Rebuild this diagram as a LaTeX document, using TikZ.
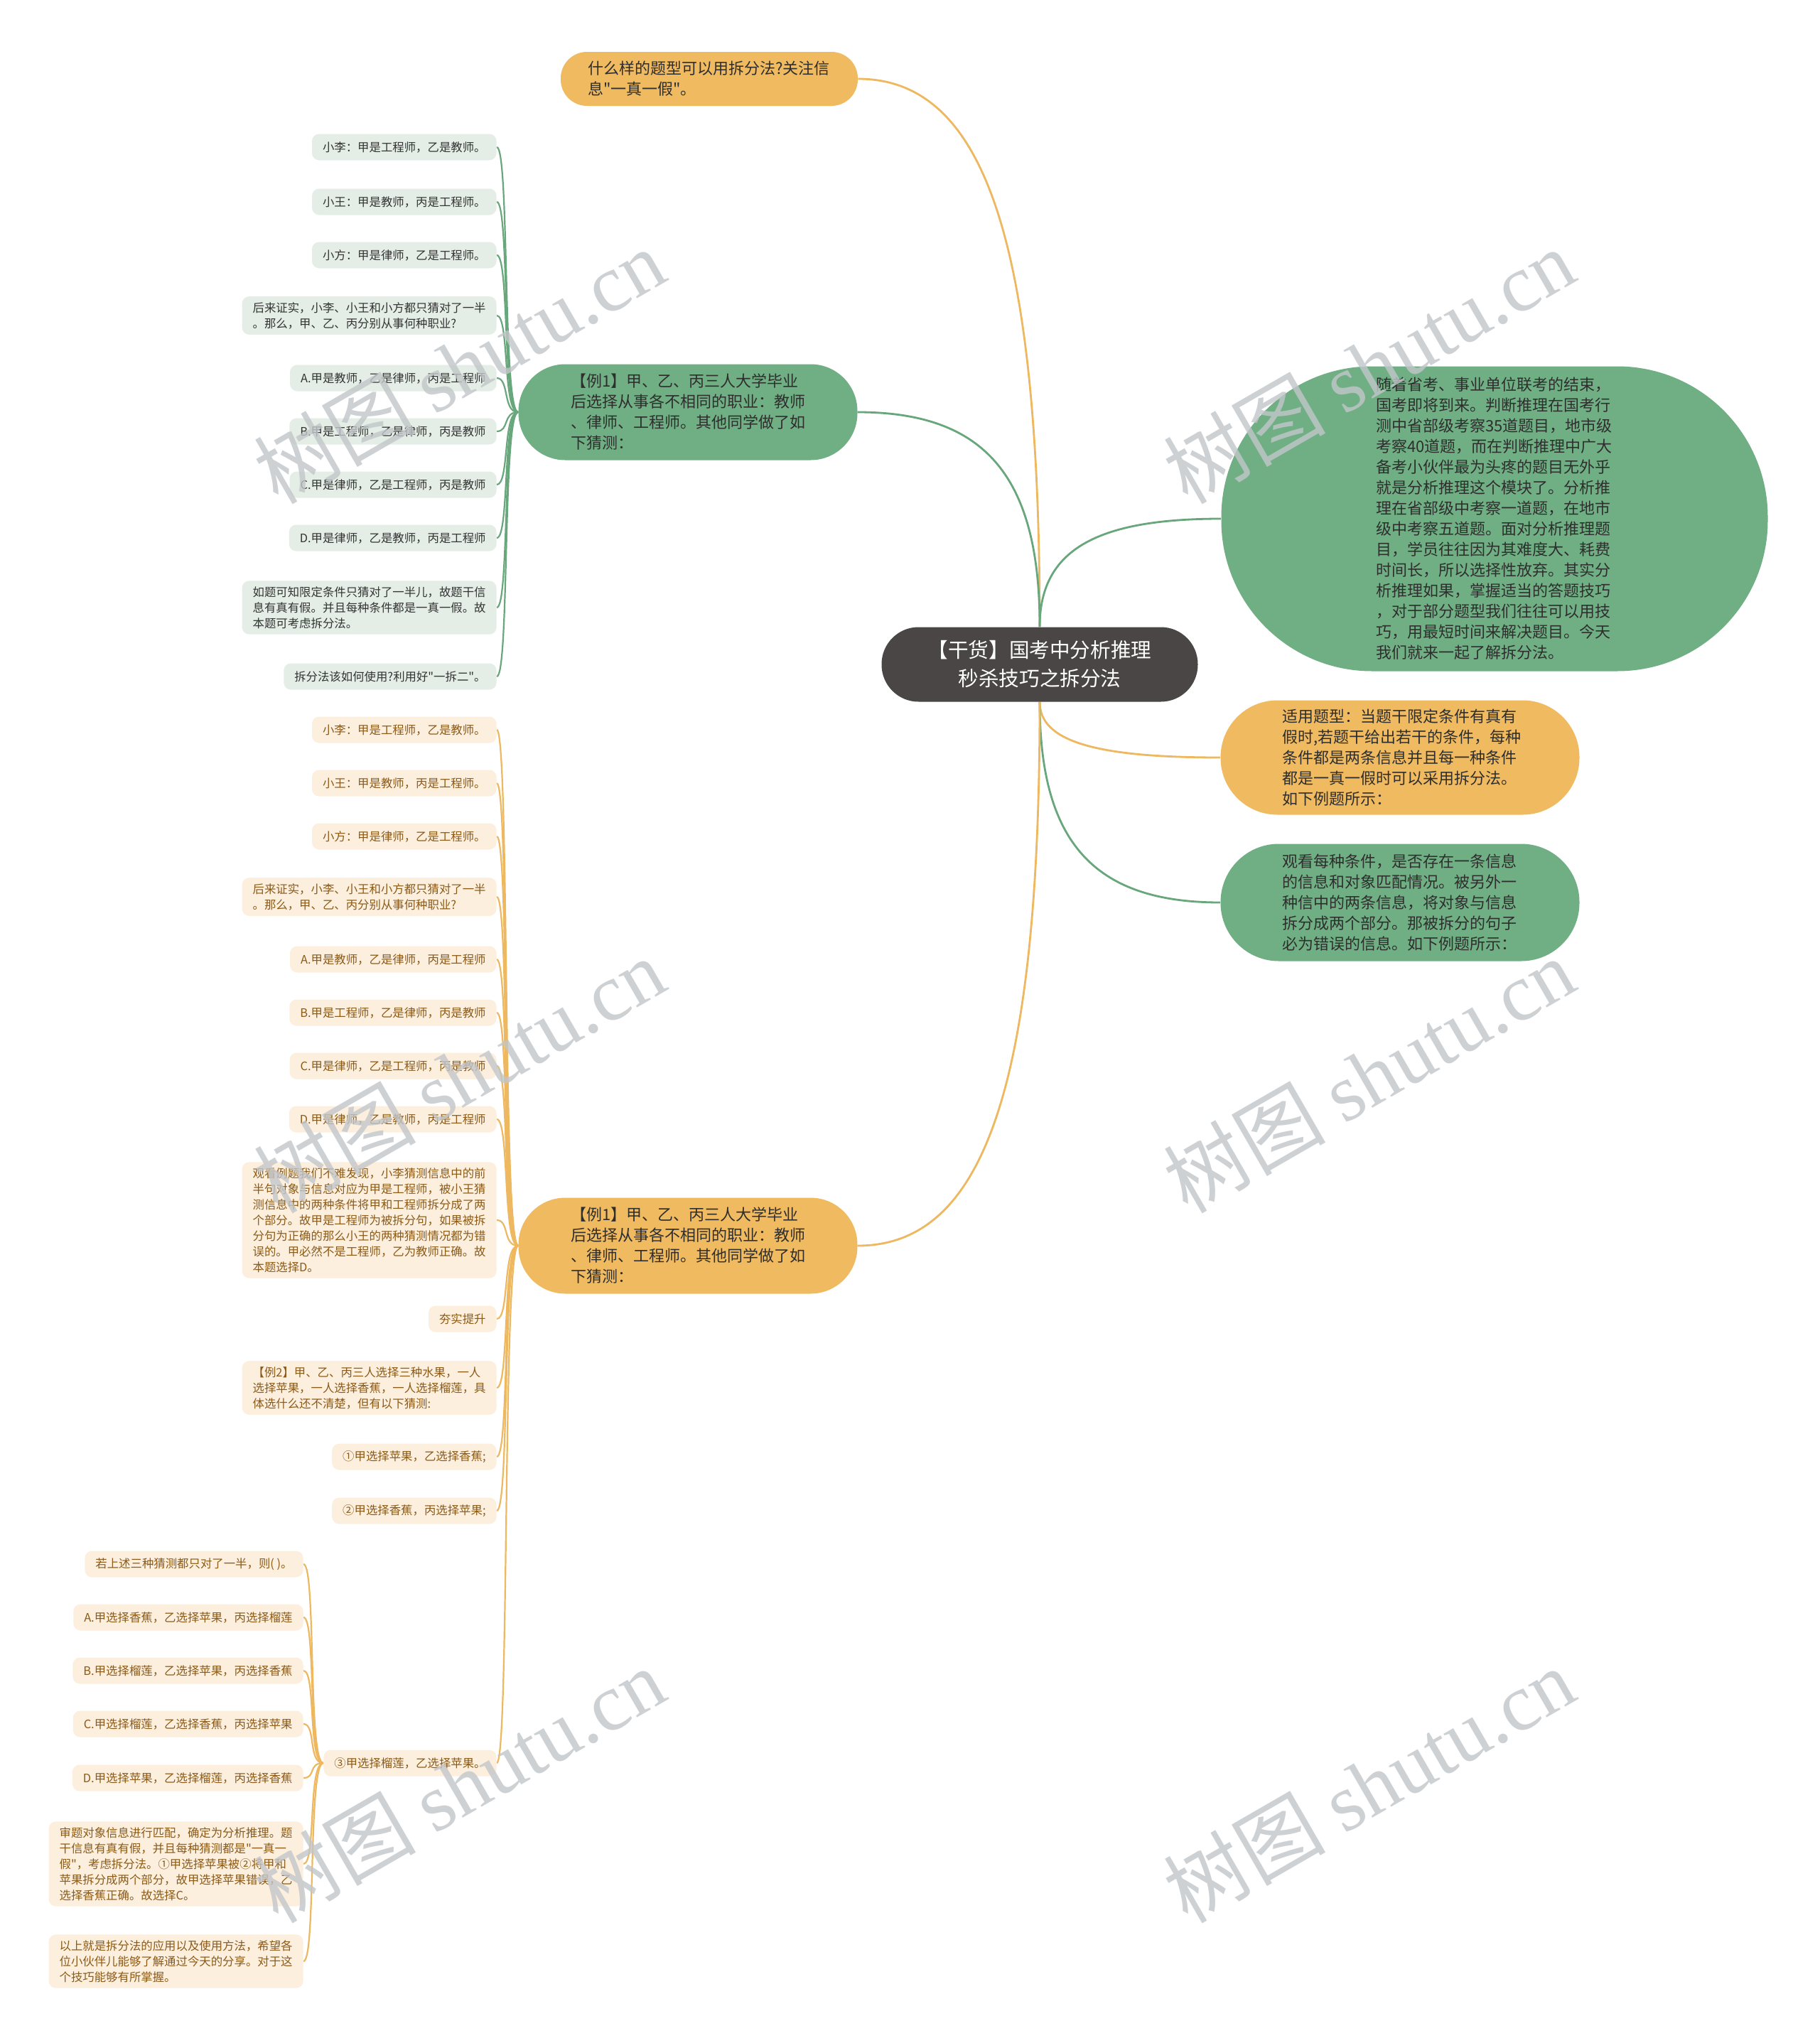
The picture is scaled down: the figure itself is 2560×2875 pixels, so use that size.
\documentclass[tikz,border=0pt]{standalone}
\usepackage{fontspec}
\setmainfont{Noto Sans CJK SC}
\newfontfamily\cjk{Noto Sans CJK SC}
\newfontfamily\wmlat{Liberation Serif}
\usetikzlibrary{calc,backgrounds}
\definecolor{cdark}{HTML}{4B4646}
\definecolor{gmain}{HTML}{70AF83}
\definecolor{omain}{HTML}{F0BA60}
\definecolor{gline}{HTML}{68A67B}
\definecolor{oline}{HTML}{EDB85F}
\definecolor{gleaffill}{HTML}{E4EEE6}
\definecolor{oleaffill}{HTML}{FDEFDE}
\definecolor{gleaftext}{HTML}{333333}
\definecolor{oleaftext}{HTML}{8B5A16}
\definecolor{maintext}{HTML}{2E2E2E}
\definecolor{wmgray}{HTML}{C2C6C9}
\tikzset{
  central/.style={fill=cdark, text=white, rounded corners=26pt, minimum width=222.5pt, minimum height=52.5pt, align=center, inner sep=0pt, font=\cjk\fontsize{14.3}{20}\selectfont},
  mainbox/.style={align=left, inner sep=0pt, text=maintext, font=\cjk\fontsize{11}{14.5}\selectfont},
  leaf/.style={rounded corners=5pt, inner xsep=7.5pt, inner ysep=4pt, minimum height=18.5pt, anchor=east, align=left, font=\cjk\fontsize{8.2}{11}\selectfont},
  gleaf/.style={leaf, fill=gleaffill, text=gleaftext},
  oleaf/.style={leaf, fill=oleaffill, text=oleaftext},
  multi/.style={text width=164pt},
  gcon/.style={draw=gline, line width=1.4pt},
  ocon/.style={draw=oline, line width=1.4pt},
  gleafcon/.style={draw=gline, line width=1.1pt},
  oleafcon/.style={draw=oline, line width=1.1pt},
  wm/.style={rotate=30, text=wmgray, text opacity=0.8, font=\cjk\fontsize{57}{57}\selectfont, inner sep=0pt}
}
\begin{document}
\begin{tikzpicture}[x=0.5pt,y=-0.5pt]
\useasboundingbox (0,0) rectangle (2560,2875);

% main nodes
\node[central] (c) at (1463,935) {【干货】国考中分析推理\\秒杀技巧之拆分法};
\node[mainbox, fill=omain, minimum width=209pt, minimum height=38pt, text width=171pt, rounded corners=18.5pt] (top) at (998,111) {什么样的题型可以用拆分法?关注信\\息"一真一假"。};
\node[mainbox, fill=gmain, minimum width=238.5pt, minimum height=67.5pt, text width=165pt, rounded corners=33pt] (ex1g) at (968,580) {【例1】甲、乙、丙三人大学毕业\\后选择从事各不相同的职业：教师\\、律师、工程师。其他同学做了如\\下猜测：};
\node[mainbox, fill=omain, minimum width=238.5pt, minimum height=67.5pt, text width=165pt, rounded corners=33pt] (ex1o) at (968,1753) {【例1】甲、乙、丙三人大学毕业\\后选择从事各不相同的职业：教师\\、律师、工程师。其他同学做了如\\下猜测：};
\node[mainbox, fill=gmain, minimum width=384.5pt, minimum height=214.5pt, text width=167pt, rounded corners=106pt] (bg) at (2103,730) {随着省考、事业单位联考的结束，\\国考即将到来。判断推理在国考行\\测中省部级考察35道题目，地市级\\考察40道题，而在判断推理中广大\\备考小伙伴最为头疼的题目无外乎\\就是分析推理这个模块了。分析推\\理在省部级中考察一道题，在地市\\级中考察五道题。面对分析推理题\\目，学员往往因为其难度大、耗费\\时间长，所以选择性放弃。其实分\\析推理如果，掌握适当的答题技巧\\，对于部分题型我们往往可以用技\\巧，用最短时间来解决题目。今天\\我们就来一起了解拆分法。};
\node[mainbox, fill=omain, minimum width=252.5pt, minimum height=80.5pt, text width=166pt, rounded corners=40pt] (ro) at (1970,1066) {适用题型：当题干限定条件有真有\\假时,若题干给出若干的条件，每种\\条件都是两条信息并且每一种条件\\都是一真一假时可以采用拆分法。\\如下例题所示：};
\node[mainbox, fill=gmain, minimum width=252.5pt, minimum height=82.5pt, text width=166pt, rounded corners=41pt] (rg) at (1970,1270) {观看每种条件，是否存在一条信息\\的信息和对象匹配情况。被另外一\\种信中的两条信息，将对象与信息\\拆分成两个部分。那被拆分的句子\\必为错误的信息。如下例题所示：};

% green leaves
\node[gleaf] (g1) at (699,207) {小李：甲是工程师，乙是教师。};
\node[gleaf] (g2) at (699,284) {小王：甲是教师，丙是工程师。};
\node[gleaf] (g3) at (699,359) {小方：甲是律师，乙是工程师。};
\node[gleaf, multi] (g4) at (699,444) {后来证实，小李、小王和小方都只猜对了一半\\。那么，甲、乙、丙分别从事何种职业?};
\node[gleaf] (g5) at (699,532) {A.甲是教师，乙是律师，丙是工程师};
\node[gleaf] (g6) at (699,607) {B.甲是工程师，乙是律师，丙是教师};
\node[gleaf] (g7) at (699,682) {C.甲是律师，乙是工程师，丙是教师};
\node[gleaf] (g8) at (699,757) {D.甲是律师，乙是教师，丙是工程师};
\node[gleaf, multi] (g9) at (699,855) {如题可知限定条件只猜对了一半儿，故题干信\\息有真有假。并且每种条件都是一真一假。故\\本题可考虑拆分法。};
\node[gleaf] (g10) at (699,952) {拆分法该如何使用?利用好"一拆二"。};

% orange leaves
\node[oleaf] (o1) at (699,1027) {小李：甲是工程师，乙是教师。};
\node[oleaf] (o2) at (699,1102) {小王：甲是教师，丙是工程师。};
\node[oleaf] (o3) at (699,1177) {小方：甲是律师，乙是工程师。};
\node[oleaf, multi] (o4) at (699,1262) {后来证实，小李、小王和小方都只猜对了一半\\。那么，甲、乙、丙分别从事何种职业?};
\node[oleaf] (o5) at (699,1350) {A.甲是教师，乙是律师，丙是工程师};
\node[oleaf] (o6) at (699,1425) {B.甲是工程师，乙是律师，丙是教师};
\node[oleaf] (o7) at (699,1500) {C.甲是律师，乙是工程师，丙是教师};
\node[oleaf] (o8) at (699,1575) {D.甲是律师，乙是教师，丙是工程师};
\node[oleaf, multi] (o9) at (699,1717) {观看例题我们不难发现，小李猜测信息中的前\\半句对象与信息对应为甲是工程师，被小王猜\\测信息中的两种条件将甲和工程师拆分成了两\\个部分。故甲是工程师为被拆分句，如果被拆\\分句为正确的那么小王的两种猜测情况都为错\\误的。甲必然不是工程师，乙为教师正确。故\\本题选择D。};
\node[oleaf] (o10) at (699,1856) {夯实提升};
\node[oleaf, multi] (o11) at (699,1953) {【例2】甲、乙、丙三人选择三种水果，一人\\选择苹果，一人选择香蕉，一人选择榴莲，具\\体选什么还不清楚，但有以下猜测:};
\node[oleaf] (o12) at (699,2050) {①甲选择苹果，乙选择香蕉;};
\node[oleaf] (o13) at (699,2126) {②甲选择香蕉，丙选择苹果;};
\node[oleaf] (o14) at (699,2481) {③甲选择榴莲，乙选择苹果。};

% children of o14
\node[oleaf] (p1) at (427,2201) {若上述三种猜测都只对了一半，则( )。};
\node[oleaf] (p2) at (427,2276) {A.甲选择香蕉，乙选择苹果，丙选择榴莲};
\node[oleaf] (p3) at (427,2351) {B.甲选择榴莲，乙选择苹果，丙选择香蕉};
\node[oleaf] (p4) at (427,2426) {C.甲选择榴莲，乙选择香蕉，丙选择苹果};
\node[oleaf] (p5) at (427,2502) {D.甲选择苹果，乙选择榴莲，丙选择香蕉};
\node[oleaf, multi] (p6) at (427,2623) {审题对象信息进行匹配，确定为分析推理。题\\干信息有真有假，并且每种猜测都是"一真一\\假"，考虑拆分法。①甲选择苹果被②将甲和\\苹果拆分成两个部分，故甲选择苹果错误，乙\\选择香蕉正确。故选择C。};
\node[oleaf, multi] (p7) at (427,2760) {以上就是拆分法的应用以及使用方法，希望各\\位小伙伴儿能够了解通过今天的分享。对于这\\个技巧能够有所掌握。};

% connectors behind nodes
\begin{scope}[on background layer]
\fill[white] (0,0) rectangle (2560,2875);
% from central to main topics
\draw[ocon] (c.north) .. controls ($(c.north)!0.7!(c.north|-top.east)$) and ($(top.east)!0.7!(c.north|-top.east)$) .. (top.east);
\draw[gcon] (c.north) .. controls ($(c.north)!0.7!(c.north|-ex1g.east)$) and ($(ex1g.east)!0.7!(c.north|-ex1g.east)$) .. (ex1g.east);
\draw[gcon] (c.north) .. controls ($(c.north)!0.7!(c.north|-bg.west)$) and ($(bg.west)!0.7!(c.north|-bg.west)$) .. (bg.west);
\draw[ocon] (c.south) .. controls ($(c.south)!0.7!(c.south|-ro.west)$) and ($(ro.west)!0.7!(c.south|-ro.west)$) .. (ro.west);
\draw[gcon] (c.south) .. controls ($(c.south)!0.7!(c.south|-rg.west)$) and ($(rg.west)!0.7!(c.south|-rg.west)$) .. (rg.west);
\draw[ocon] (c.south) .. controls ($(c.south)!0.7!(c.south|-ex1o.east)$) and ($(ex1o.east)!0.7!(c.south|-ex1o.east)$) .. (ex1o.east);
% leaves
\foreach \n in {g1,g2,g3,g4,g5,g6,g7,g8,g9,g10}
  \draw[gleafcon] (ex1g.west) .. controls +(-22,0) and +(18,0) .. (\n.east);
\foreach \n in {o1,o2,o3,o4,o5,o6,o7,o8,o9,o10,o11,o12,o13,o14}
  \draw[oleafcon] (ex1o.west) .. controls +(-22,0) and +(18,0) .. (\n.east);
\foreach \n in {p1,p2,p3,p4,p5,p6,p7}
  \draw[oleafcon] (o14.west) .. controls +(-22,0) and +(18,0) .. (\n.east);
\end{scope}

% watermarks
\foreach \p [count=\i] in {(646,515),(1926,515),(646,1513),(1926,1513),(646,2512),(1926,2512)}
  \node[wm] (wm\i) at \p {树图 {\wmlat shutu.cn}};

\end{tikzpicture}
\end{document}
